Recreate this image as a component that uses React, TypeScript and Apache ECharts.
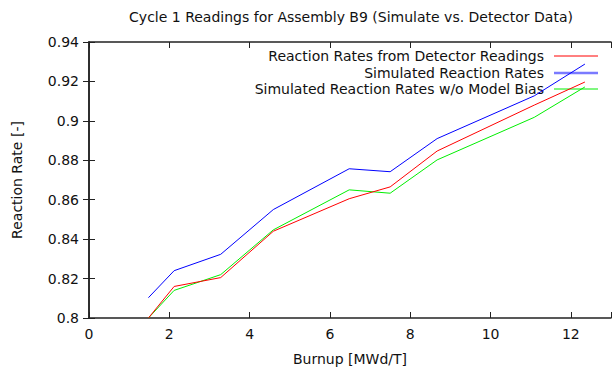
import React, { useEffect, useRef } from "react";
import * as echarts from "echarts";

const burnup = [1.48, 2.12, 3.28, 4.59, 6.48, 7.5, 8.67, 11.09, 12.35];
const detector = [0.8, 0.816, 0.8205, 0.844, 0.8605, 0.8665, 0.8847, 0.908, 0.9197];
const simulated = [0.8103, 0.824, 0.8323, 0.855, 0.8757, 0.8742, 0.891, 0.9127, 0.9288];
const noBias = [0.8, 0.814, 0.822, 0.8447, 0.865, 0.8633, 0.8802, 0.9018, 0.9172];

const seriesNames = [
  "Reaction Rates from Detector Readings",
  "Simulated Reaction Rates",
  "Simulated Reaction Rates w/o Model Bias",
];
const seriesColors = ["#ff0000", "#0000ff", "#00ee00"];
const legendSampleColors = ["#ff0000", "#7a7aff", "#00ee00"];
const titleText = "Cycle 1 Readings for Assembly B9 (Simulate vs. Detector Data)";
const xName = "Burnup [MWd/T]";
const yName = "Reaction Rate [-]";

const FONT = "DejaVu Sans";

export default function App() {
  const ref = useRef<HTMLDivElement>(null);
  useEffect(() => {
    document.body.style.margin = "0";
    const chart = echarts.init(ref.current!, null, { renderer: "svg" });
    const values = [detector, simulated, noBias];
    const axisCommon = {
      axisLine: { show: true, lineStyle: { color: "#222", width: 1.5 } },
      axisTick: { show: true, inside: true, length: 6, lineStyle: { color: "#222", width: 1 } },
      splitLine: { show: false },
    };
    const legendY = [56, 73, 89];
    const graphic: any[] = [
      {
        type: "text",
        x: 351,
        y: 17,
        style: { text: titleText, font: `14px ${FONT}`, fill: "#111", textAlign: "center", textVerticalAlign: "middle" },
      },
    ];
    seriesNames.forEach((n, i) => {
      graphic.push({
        type: "text",
        x: 544,
        y: legendY[i],
        style: { text: n, font: `14px ${FONT}`, fill: "#111", textAlign: "right", textVerticalAlign: "middle" },
      });
      graphic.push({
        type: "line",
        shape: { x1: 554, y1: legendY[i], x2: 598, y2: legendY[i] },
        style: { stroke: legendSampleColors[i], lineWidth: i === 1 ? 2.5 : 1 },
      });
    });
    chart.setOption({
      animation: false,
      backgroundColor: "#fff",
      grid: { left: 89, top: 42, width: 527, height: 280, containLabel: false },
      xAxis: [
        {
          type: "value",
          min: 0,
          max: 13,
          interval: 2,
          ...axisCommon,
          axisLabel: {
            color: "#111",
            fontFamily: FONT,
            fontSize: 14,
            margin: 9,
            formatter: (v: number) => (v % 2 === 0 ? String(v) : ""),
          },
          name: xName,
          nameLocation: "middle",
          nameGap: 34,
          nameTextStyle: { color: "#111", fontFamily: FONT, fontSize: 14 },
        },
        {
          type: "value",
          position: "top",
          min: 0,
          max: 13,
          interval: 2,
          ...axisCommon,
          axisLabel: { show: false },
        },
      ],
      yAxis: [
        {
          type: "value",
          min: 0.8,
          max: 0.94,
          interval: 0.02,
          ...axisCommon,
          axisLabel: {
            color: "#111",
            fontFamily: FONT,
            fontSize: 14,
            margin: 10,
            formatter: (v: number) => String(parseFloat(v.toFixed(2))),
          },
          name: yName,
          nameLocation: "middle",
          nameGap: 65,
          nameTextStyle: { color: "#111", fontFamily: FONT, fontSize: 14 },
        },
        {
          type: "value",
          position: "right",
          min: 0.8,
          max: 0.94,
          interval: 0.02,
          ...axisCommon,
          axisLabel: { show: false },
        },
      ],
      series: seriesNames.map((n, i) => ({
        name: n,
        type: "line",
        data: burnup.map((x, j) => [x, values[i][j]]),
        showSymbol: false,
        symbol: "none",
        lineStyle: { color: seriesColors[i], width: 1 },
        clip: true,
        z: 3 - i,
      })),
      graphic,
    });
    return () => chart.dispose();
  }, []);
  return (
    <div
      ref={ref}
      style={{ position: "fixed", left: 0, top: 0, width: 614, height: 371, overflow: "hidden" }}
    />
  );
}
